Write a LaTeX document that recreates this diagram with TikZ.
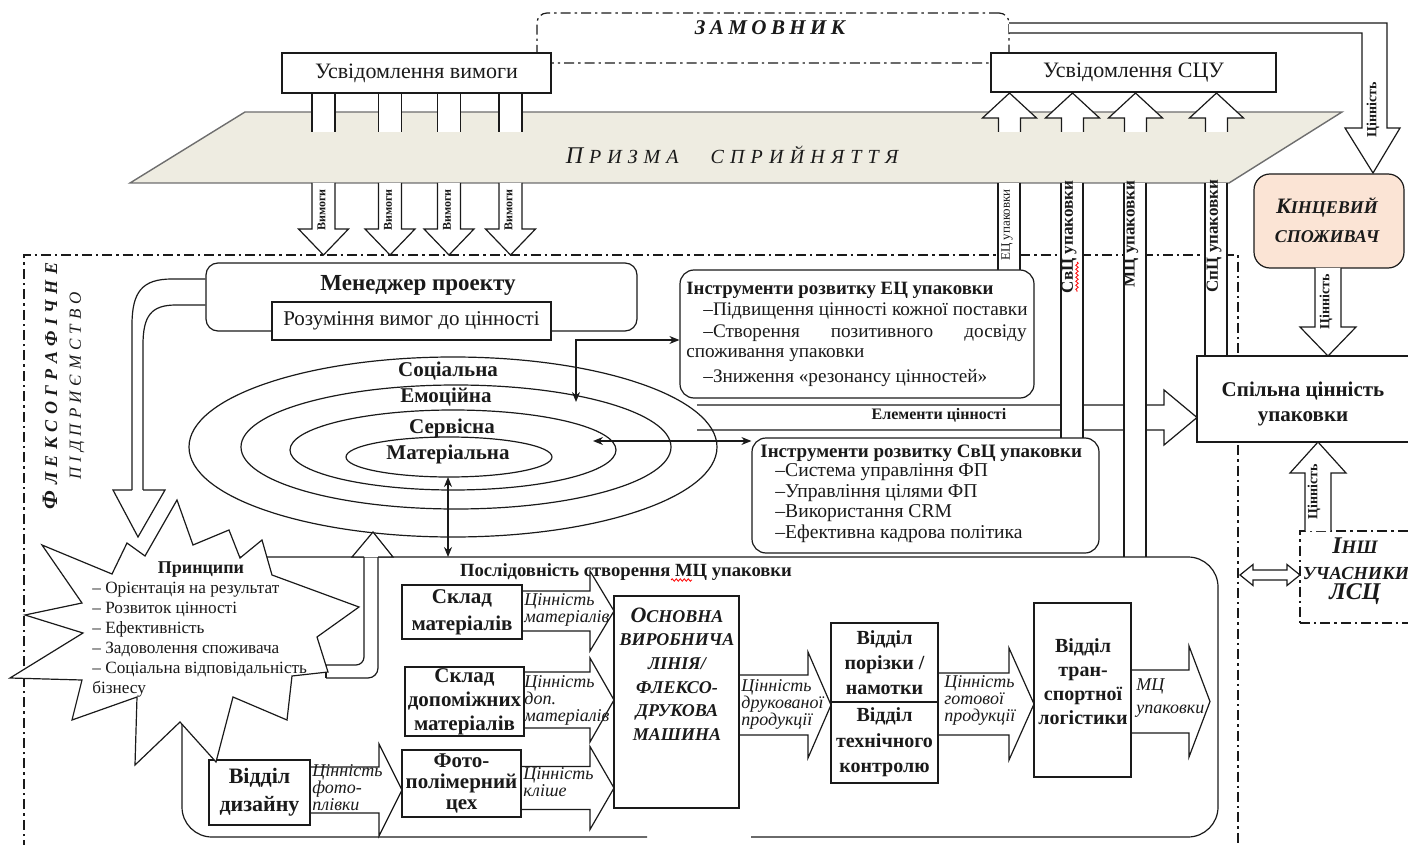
\documentclass[tikz,border=0pt]{standalone}
\usepackage{fontspec}
\setmainfont{Liberation Serif}
\usetikzlibrary{arrows.meta,decorations.pathmorphing}

\definecolor{ink}{HTML}{1A1A1A}
\definecolor{prismfill}{HTML}{EEECE1}
\definecolor{prismline}{HTML}{6E6E6E}
\definecolor{peach}{HTML}{FBE4D5}

\newcommand\fsz[2]{\fontsize{#1}{#2}\selectfont}
\newcommand\trackedtext[2]{{\spaceskip=#1\relax #2}}
% right-pointing block arrow: shaft start x, head base x, tip x, centre y, shaft half-height, head half-height
\newcommand\blockright[6]{%
  \filldraw[blk] ({#1},{#4-#5}) -- ({#2},{#4-#5}) -- ({#2},{#4-#6}) -- ({#3},{#4})
    -- ({#2},{#4+#6}) -- ({#2},{#4+#5}) -- ({#1},{#4+#5});}
% vertical block arrow: centre x, shaft start y, head base y, tip y, shaft half-width, head half-width
\newcommand\blockvert[6]{%
  \filldraw[blk] ({#1-#5},{#2}) -- ({#1-#5},{#3}) -- ({#1-#6},{#3}) -- ({#1},{#4})
    -- ({#1+#6},{#3}) -- ({#1+#5},{#3}) -- ({#1+#5},{#2});}
% white double-line strip hanging from the prism: left x, right x, bottom y
\newcommand\vstrip[3]{%
  \fill[white] (#1,183) rectangle (#2,#3);
  \draw[ln] (#1,183) -- (#1,#3) (#2,183) -- (#2,#3);}

\tikzset{
  ln/.style={draw=ink, line width=0.6pt},
  dashdot/.style={ln, dash pattern=on 5pt off 2pt on 1.2pt off 2pt},
  bx/.style={ln, fill=white, rectangle, inner sep=0pt, align=center, text=ink},
  rbx/.style={bx, rounded corners=7pt},
  blk/.style={ln, fill=white, line join=miter},
  lbl/.style={inner sep=0pt, text=ink},
  darr/.style={ink, line width=0.6pt, {Stealth[length=5pt,width=4pt]}-{Stealth[length=5pt,width=4pt]}},
  vlab/.style={lbl, rotate=90, font=\fsz{7}{7}\bfseries},
  ital/.style={lbl, anchor=west, align=left, font=\fsz{9}{8.5}\itshape},
  boxfont/.style={font=\fsz{10.5}{12}\bfseries},
  squiggle/.style={red, line width=0.4pt, decorate, decoration={snake, amplitude=0.6pt, segment length=2pt}},
}

\begin{document}
\begin{tikzpicture}[x=0.5pt,y=-0.5pt]
\useasboundingbox (0,0) rectangle (1408,845);

% ---------- enterprise boundary ----------
\draw[dashdot] (24,850) -- (24,255) -- (1238,255) -- (1238,850);
\node[lbl, rotate=90, font=\fsz{9}{8}\bfseries\itshape] (flexo) at (50,386)
  {\trackedtext{2.7pt}{{\fsz{11}{8}Ф} Л Е К С О Г Р А Ф І Ч Н Е}};
\node[lbl, rotate=90, font=\fsz{8.5}{8}\itshape] (firm) at (77,386)
  {\trackedtext{2.5pt}{П І Д П Р И Є М С Т В О}};

% ---------- perception prism ----------
\filldraw[fill=prismfill, draw=prismline, line width=0.7pt]
  (245,112) -- (1342,112) -- (1229,183) -- (130,183) -- cycle;
\node[lbl, font=\fsz{10}{8}\itshape] (prism) at (732,155)
  {\trackedtext{3pt}{{\fsz{12}{8}П} Р И З М А}\hspace{16pt}\trackedtext{3.1pt}{С П Р И Й Н Я Т Т Я}};

% requirement tails above the prism
\foreach \cx in {323.5,390,449,510.5}{
  \fill[white] (\cx-11.5,93) rectangle (\cx+11.5,132);
  \draw[ln] (\cx-11.5,93) -- (\cx-11.5,132) (\cx+11.5,93) -- (\cx+11.5,132);
}
% awareness arrows rising out of the prism
\foreach \cx in {1009.5,1072.5,1135.5,1216.5}{
  \blockvert{\cx}{132}{118}{93}{11}{27}
}

% ---------- top boxes ----------
\node[bx, dashdot, rounded corners=5pt, minimum width=236pt, minimum height=25pt] (client) at (773,38) {};
\node[lbl, font=\fsz{10.5}{10}\bfseries\itshape] (clienttext) at (770,28) {\trackedtext{2.2pt}{З А М О В Н И К}};
\node[bx, minimum width=134.5pt, minimum height=20pt, font=\fsz{11}{11}] (needs) at (416.5,73) {Усвідомлення вимоги};
\node[bx, minimum width=142.5pt, minimum height=19.5pt, font=\fsz{11}{11}] (scuaware) at (1133.5,72.5) {Усвідомлення СЦУ};

% value flow from the client to the end consumer
\filldraw[blk] (1009,23) -- (1387,23) -- (1387,128) -- (1400,128) -- (1373,173) -- (1345,128)
  -- (1362,128) -- (1362,33) -- (1009,33);
\node[vlab] at (1373,110) {Цінність};

% requirement arrows below the prism
\foreach \cx in {323.5,390,449,510.5}{
  \blockvert{\cx}{183}{229}{255}{11.5}{25}
  \node[lbl, rotate=90, font=\fsz{6}{6}\bfseries] at (\cx-2,210) {Вимоги};
}

% ---------- value layers ----------
\filldraw[blk] (697,405) -- (1164,405) -- (1164,390) -- (1197,417.5) -- (1164,445) -- (1164,430) -- (697,430);
\node[lbl, font=\fsz{8}{8}\bfseries] (elements) at (939,415) {Елементи цінності};

\draw[ln] (453,447) ellipse [x radius=264, y radius=90];
\draw[ln] (456,447) ellipse [x radius=215, y radius=62];
\draw[ln] (453,450) ellipse [x radius=163, y radius=40];
\draw[ln] (449,457) ellipse [x radius=103, y radius=20];
\node[lbl, font=\fsz{10.5}{10}\bfseries] (social) at (448,371) {Соціальна};
\node[lbl, font=\fsz{10.5}{10}\bfseries] (emot) at (446,397) {Емоційна};
\node[lbl, font=\fsz{10.5}{10}\bfseries] (serv) at (452,428) {Сервісна};
\node[lbl, font=\fsz{10.5}{10}\bfseries] (mater) at (448,454) {Матеріальна};
\coordinate (matbottom) at (448,477);
\coordinate (servpoint) at (593,441);
\coordinate (emopoint) at (576,402);

% ---------- strips hanging from the prism ----------
\vstrip{998}{1020}{270}
\vstrip{1061}{1083}{438}
\vstrip{1124}{1146}{557}
\vstrip{1205}{1227}{356}
\node[lbl, rotate=90, font=\fsz{6.5}{6.5}] at (1007,225) {ЕЦ упаковки};
\node[vlab, font=\fsz{8.5}{8.5}\bfseries] at (1069,237) {СвЦ упаковки};
\node[vlab, font=\fsz{8.5}{8.5}\bfseries] at (1131,234) {МЦ упаковки};
\node[vlab, font=\fsz{8.5}{8.5}\bfseries] at (1214,236) {СпЦ упаковки};
\draw[squiggle] (1077,262) -- (1077,292);

% ---------- project manager ----------
\node[rbx, rounded corners=6pt, minimum width=215.5pt, minimum height=34pt] (pm) at (421.5,297) {};
\node[lbl, font=\fsz{11.5}{12}\bfseries] (pmtext) at (418,285) {Менеджер проекту};
\node[bx, minimum width=139.5pt, minimum height=19pt, font=\fsz{10.5}{11}] (understand) at (411.5,321) {Розуміння вимог до цінності};

% ---------- development tools ----------
\node[rbx, minimum width=177pt, minimum height=64pt] (ectools) at (857,334) {};
\node[lbl, anchor=west, font=\fsz{9.4}{9}\bfseries] at (686,290) {Інструменти розвитку ЕЦ упаковки};
\node[lbl, anchor=west, font=\fsz{9.6}{9}] at (703,311) {–Підвищення цінності кожної поставки};
\node[lbl, anchor=west, font=\fsz{9.6}{9}] at (703,333) {–Створення};
\node[lbl, font=\fsz{9.6}{9}] at (882,333) {позитивного};
\node[lbl, anchor=east, font=\fsz{9.6}{9}] at (1027,333) {досвіду};
\node[lbl, anchor=west, font=\fsz{9.6}{9}] at (686,355) {споживання упаковки};
\node[lbl, anchor=west, font=\fsz{9.6}{9}] at (703,378) {–Зниження «резонансу цінностей»};

\node[rbx, minimum width=173.5pt, minimum height=57.5pt] (svtools) at (925.5,495.5) {};
\node[lbl, anchor=west, font=\fsz{9.5}{9}\bfseries] at (760,453) {Інструменти розвитку СвЦ упаковки};
\node[lbl, anchor=west, font=\fsz{9.8}{10.2}, align=left] at (775,503)
  {–Система управління ФП\\–Управління цілями ФП\\–Використання CRM\\–Ефективна кадрова політика};

\draw[darr] (emopoint) |- ([yshift=-3pt]ectools.west);
\draw[darr] (servpoint) -- (servpoint -| svtools.west);

% ---------- shared value, end consumer, other participants ----------
\node[bx, minimum width=111.5pt, minimum height=43pt] (common) at (1308.5,399) {};
\node[lbl, font=\fsz{10.5}{12.5}\bfseries, align=center] at (1303,404) {Спільна цінність\\упаковки};

\node[rbx, fill=peach, rounded corners=8pt, minimum width=75pt, minimum height=47pt] (consumer) at (1329,221) {};
\node[lbl, font=\fsz{9}{14.5}\bfseries\itshape, align=center] at (1327,220) {{\fsz{11}{14.5}К}ІНЦЕВИЙ\\СПОЖИВАЧ};
\blockvert{1328}{268}{327}{356}{13}{28}
\node[vlab] at (1326,302) {Цінність};

\node[bx, dashdot, fill=none, minimum width=60pt, minimum height=46pt] (others) at (1360,577) {};
\node[lbl, font=\fsz{9.5}{10}\bfseries\itshape] at (1355,546) {{\fsz{12}{10}І}НШ};
\node[lbl, font=\fsz{9.2}{10}\bfseries\itshape] at (1356,573) {УЧАСНИКИ};
\node[lbl, font=\fsz{12}{12}\bfseries\itshape] at (1355,594) {ЛСЦ};
\blockvert{1318}{531}{473}{442}{13}{28}
\node[vlab] at (1314,492) {Цінність};
\filldraw[blk] (1240,575) -- (1253,564.5) -- (1253,570) -- (1287,570) -- (1287,564.5) -- (1300,575)
  -- (1287,585.5) -- (1287,580) -- (1253,580) -- (1253,585.5) -- cycle;

% ---------- MC creation sequence ----------
\draw[ln, rounded corners=15pt] (647,837) -- (182,837) -- (182,557) -- (1218,557) -- (1218,837) -- (751,837);
\node[lbl, font=\fsz{9.3}{9}\bfseries] (seqtitle) at (626,572) {Послідовність створення МЦ упаковки};
\draw[squiggle] (671,580) -- (692,580);
\coordinate (seqtop) at (448,557);
\draw[darr] (matbottom) -- (seqtop);

\blockright{522}{590}{614}{611}{20}{40}
\blockright{524}{590}{614}{700}{28}{42}
\blockright{521}{590}{614}{788}{21.5}{41.5}
\blockright{310}{379}{402}{790}{23}{46}
\blockright{739}{808}{831}{705}{30}{53}
\blockright{938}{1009}{1034}{704}{31}{56}
\blockright{1131}{1189}{1210}{701.5}{31.5}{55.5}

\node[bx, boxfont, font=\fsz{10.5}{13.5}\bfseries, minimum width=60pt, minimum height=27pt] (matstore) at (462,612) {Склад\\матеріалів};
\node[bx, boxfont, minimum width=59.5pt, minimum height=34.5pt] (auxstore) at (464.5,701.5) {Склад\\допоміжних\\матеріалів};
\node[bx, font=\fsz{10.5}{10.5}\bfseries, minimum width=59.5pt, minimum height=33.5pt] (photo) at (461.5,783.5) {Фото-\\полімерний\\цех};
\node[bx, font=\fsz{11}{14}\bfseries, minimum width=50.5pt, minimum height=32.5pt] (design) at (259.5,792.5) {Відділ\\дизайну};
\node[bx, minimum width=62.5pt, minimum height=106pt] (press) at (676.5,702) {};
\node[lbl, font=\fsz{9}{11.8}\bfseries\itshape, align=center] at (677,674)
  {{\fsz{11}{11.8}О}СНОВНА\\ВИРОБНИЧА\\ЛІНІЯ/\\ФЛЕКСО-\\ДРУКОВА\\МАШИНА};
\node[bx, font=\fsz{10}{12.5}\bfseries, minimum width=53.5pt, minimum height=39.5pt] (cut) at (884.5,662.5) {Відділ\\порізки /\\намотки};
\node[bx, font=\fsz{10}{12.75}\bfseries, minimum width=53.5pt, minimum height=40.5pt] (qc) at (884.5,742.5) {Відділ\\технічного\\контролю};
\node[bx, minimum width=48.5pt, minimum height=87pt] (logist) at (1082.5,690) {};
\node[lbl, font=\fsz{10}{12}\bfseries, align=center] at (1083,682) {Відділ\\тран-\\спортної\\логістики};

\node[ital] at (524,610) {Цінність\\матеріалів};
\node[ital] at (524,700) {Цінність\\доп.\\матеріалів};
\node[ital] at (523,782) {Цінність\\кліше};
\node[ital] at (312,788) {Цінність\\фото-\\плівки};
\node[ital] at (741,704) {Цінність\\друкованої\\продукції};
\node[ital] at (944,700) {Цінність\\готової\\продукції};
\node[ital, font=\fsz{9}{11.5}\itshape] at (1136,698) {МЦ\\упаковки};

% ---------- principles and their feedback loops ----------
\draw[ln, rounded corners=5pt] (326,678) -- (378,678) -- (378,557);
\draw[ln, rounded corners=4pt] (326,665) -- (364,665) -- (364,557);
\draw[ln] (326,665) -- (326,678);
\filldraw[blk] (364,557) -- (352,557) -- (373,532) -- (393,557) -- (378,557);

\filldraw[blk, line join=miter] (42,545) -- (112,574) -- (127,543) -- (145,556) -- (177,500) -- (193,545)
  -- (229,530) -- (240,558) -- (262,540) -- (272,575) -- (359,607) -- (317,637) -- (328,672)
  -- (292,676) -- (287,720) -- (233,697) -- (216,762) -- (180,722) -- (135,765) -- (137,697)
  -- (72,720) -- (82,680) -- (10,678) -- (83,633) -- (25,615) -- (82,603) -- cycle;
\node[lbl, font=\fsz{9}{9}\bfseries] (principles) at (201,570) {Принципи};
\node[lbl, anchor=west, font=\fsz{8.6}{10}, align=left] at (92,640)
  {– Орієнтація на результат\\– Розвиток цінності\\– Ефективність\\– Задоволення споживача\\– Соціальна відповідальність\\бізнесу};

\draw[ln] (pm.west |- 0,279) -- (172,279) .. controls (142,279) and (132,292) .. (132,325) -- (132,490);
\draw[ln] (pm.west |- 0,305) -- (176,305) .. controls (151,305) and (143,316) .. (143,345) -- (143,490);
\filldraw[blk] (132,490) -- (113,490) -- (138,537) -- (165,490) -- (143,490);

\end{tikzpicture}
\end{document}
